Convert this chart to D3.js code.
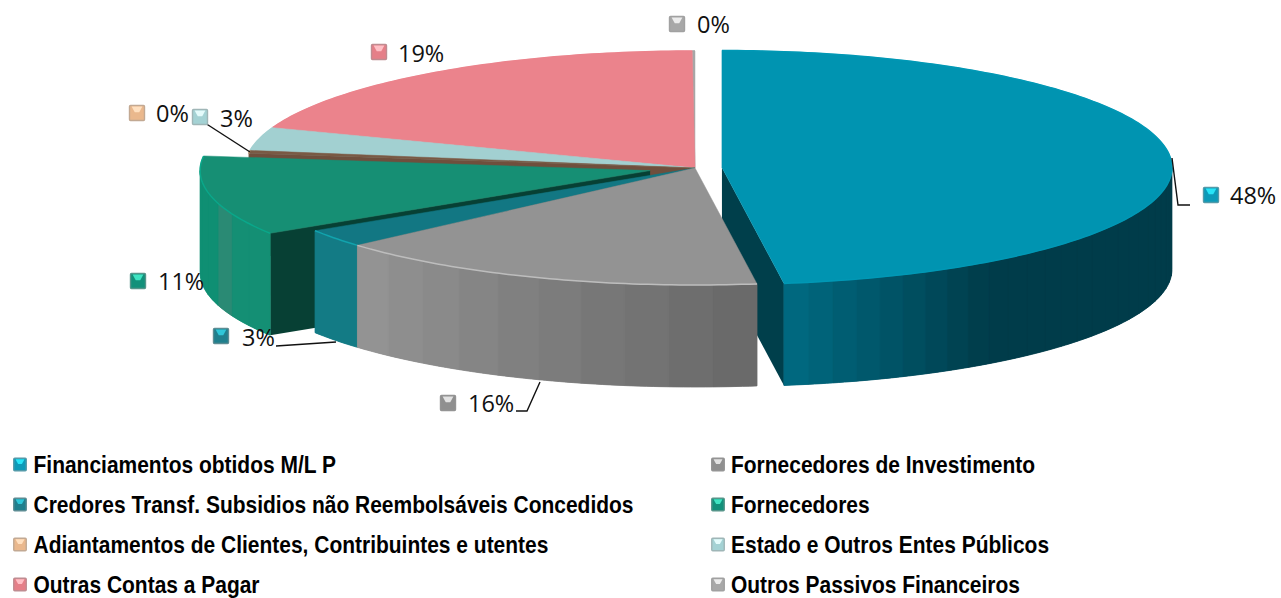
<!DOCTYPE html>
<html>
<head>
<meta charset="utf-8">
<script src="https://cdn.jsdelivr.net/npm/d3@7/dist/d3.min.js"></script>
<style>
  html, body { margin: 0; background: #fff; }
  svg { display: block; }
  .pct { font-family: "Open Sans", sans-serif; font-size: 23.5px; fill: #111; }
  .leg { font-family: "Liberation Sans", sans-serif; font-weight: bold; font-size: 23px; fill: #000; }
</style>
</head>
<body>
<script>
// Values, clockwise from 12 o'clock.
const categories = [
    "Financiamentos obtidos M/L P",
    "Fornecedores de Investimento",
    "Credores Transf. Subsidios não Reembolsáveis Concedidos",
    "Fornecedores",
    "Adiantamentos de Clientes, Contribuintes e utentes",
    "Estado e Outros Entes Públicos",
    "Outras Contas a Pagar",
    "Outros Passivos Financeiros"
];
const shares = [47.8, 15.7, 2.5, 11, 0.4, 3.2, 19.3, 0.1];
const shareLabels = ["48%", "16%", "3%", "11%", "0%", "3%", "19%", "0%"];

// Styles per slice.
const topColors = ["#0094b1", "#939393", "#127783", "#168f74", "#7a5a45", "#a2d0d1", "#eb838c", "#a6a6a6"];
const innerColors = ["#003f4b", "#6a6a6a", "#0c5560", "#074034", "#6f4f3d", "#7fa8a9", "#b9646c", "#888888"];
const rimColors = ["#0098b5", "#bdbdbd", "#12a3ad", "#0aa78a", "#c49a77", "#a2d0d1", "#eb838c", "#a6a6a6"];
// Wall colours run from the band nearest the slice's start angle to its end angle.
const wallStops = [
    ["#003c4a", "#003c4a", "#003c4a", "#00687f"],
    ["#6a6a6a", "#7e7e7e", "#939393"],
    ["#137b85", "#137b85"],
    ["#148f74", "#148f74", "#2a8a74", "#0f8f73", "#0f8f73", "#0f8f73"],
    ["#6f4f3d", "#6f4f3d"],
    ["#8fbcbd", "#8fbcbd"],
    ["#c96f78", "#c96f78"],
    ["#888888", "#888888"]
];
const wallBands = [26, 10, 1, 6, 1, 1, 1, 1];
const explode = [27, 0, 0, 46, 0, 0, 0, 0];
const keyBase = ["#0c9ab8", "#8f8f8f", "#1f7f8d", "#12907a", "#eab88d", "#a4d2d4", "#e57f88", "#a8a8a8"];
const keyTop = ["#27e4f7", "#e2e2e2", "#2fc6d8", "#3fe4c2", "#ffe0c0", "#e4fbfb", "#ffc0c6", "#ececec"];

// Layout of the data labels (key centre, text start and baseline).
const labelKeyX = [1211, 448, 221, 138, 137, 200, 379, 677];
const labelKeyY = [195, 403, 336, 281, 113, 117, 52, 24];
const labelTextX = [1230, 468, 242, 158, 156, 220, 398, 697];
const labelTextY = [204, 412, 346, 290, 122, 127, 62, 33];

const leaderLines = [
    [[1172, 158], [1178, 205], [1190, 205]],
    [[540, 382], [527, 411], [516, 411]],
    [[336, 342], [276, 346]],
    [[250, 152], [205, 123]]
];

const width = 1281;
const height = 598;

// Pie geometry.
const cx = 695;
const cy = 168;
const rx = 450;
const ry = 117;
const depth = 102;
const rad = Math.PI / 180;

const svg = d3.select("body").append("svg")
    .attr("width", width)
    .attr("height", height);

const slices = d3.pie().sort(null).value(d => d).startAngle(0).endAngle(2 * Math.PI)(shares);
const line = d3.line();

// Sideways shift of an exploded slice, along its middle angle.
function shift(i) {
    const mid = (slices[i].startAngle + slices[i].endAngle) / 2;
    return [explode[i] * Math.sin(mid), -explode[i] * Math.cos(mid) * ry / rx];
}

function rimPoint(a, off, drop) {
    return [cx + off[0] + rx * Math.sin(a), cy + off[1] - ry * Math.cos(a) + drop];
}

function arcPoints(a0, a1, off, drop) {
    const n = Math.max(2, Math.ceil((a1 - a0) / (1 * rad)));
    return d3.range(n + 1).map(k => rimPoint(a0 + (a1 - a0) * k / n, off, drop));
}

function drawInnerWall(g, i, a) {
    const off = shift(i);
    const apex = [cx + off[0], cy + off[1]];
    const pts = [apex, rimPoint(a, off, 0), rimPoint(a, off, depth), [apex[0], apex[1] + depth]];
    g.append("path").attr("d", line(pts) + "Z").attr("fill", innerColors[i]);
}

function drawOuterWall(g, i) {
    // Only the front half of the rim can be seen.
    const a0 = Math.max(slices[i].startAngle, 90 * rad);
    const a1 = Math.min(slices[i].endAngle, 270 * rad);
    if (a1 <= a0) return;
    const off = shift(i);
    const stops = wallStops[i];
    const ramp = d3.scaleLinear().domain(stops.map((d, j) => j / (stops.length - 1))).range(stops);
    const n = wallBands[i];

    // Solid underlay so the bands show no seams between them.
    g.append("path")
        .attr("d", line(arcPoints(a0, a1, off, 0).concat(arcPoints(a0, a1, off, depth).reverse())) + "Z")
        .attr("fill", ramp(0.5));

    d3.range(n).forEach(k => {
        const b0 = a0 + (a1 - a0) * k / n;
        const b1 = a0 + (a1 - a0) * (k + 1) / n;
        const pts = arcPoints(b0, b1, off, 0).concat(arcPoints(b0, b1, off, depth).reverse());
        const c = ramp(n > 1 ? k / (n - 1) : 0);
        g.append("path")
            .attr("d", line(pts) + "Z")
            .attr("fill", c)
            .attr("stroke", c)
            .attr("stroke-width", 0.8);
    });
}

function drawTop(g, i) {
    const off = shift(i);
    const a0 = slices[i].startAngle;
    const a1 = slices[i].endAngle;
    const apex = [cx + off[0], cy + off[1]];
    g.append("path")
        .attr("d", line([apex].concat(arcPoints(a0, a1, off, 0))) + "Z")
        .attr("fill", topColors[i])
        .attr("stroke", topColors[i])
        .attr("stroke-width", 0.5);
    g.append("path")
        .attr("d", line(arcPoints(a0, a1, off, 0)))
        .attr("fill", "none")
        .attr("stroke", rimColors[i])
        .attr("stroke-width", 1.5);
}

const pie = svg.append("g");

// Painter's order: back of the pie first, the gray front slice last.
[7, 6, 5, 4].forEach(i => {
    const g = pie.append("g");
    drawInnerWall(g, i, slices[i].startAngle);
    drawOuterWall(g, i);
    drawTop(g, i);
});
[0, 3, 2, 1].forEach(i => {
    const g = pie.append("g");
    // Blue shows its end face, green its start face.
    if (i === 0) drawInnerWall(g, i, slices[i].endAngle);
    if (i === 3) drawInnerWall(g, i, slices[i].startAngle);
    drawOuterWall(g, i);
    drawTop(g, i);
});

svg.append("g").selectAll("path")
    .data(leaderLines)
    .enter()
    .append("path")
    .attr("d", d => line(d))
    .attr("fill", "none")
    .attr("stroke", "#111")
    .attr("stroke-width", 1.4);

// Small bevelled square used in the labels and the legend.
function drawKey(g, x, y, size, i) {
    const s = size / 2;
    const inset = size * 0.14;
    g.append("rect")
        .attr("x", x - s).attr("y", y - s)
        .attr("width", size).attr("height", size)
        .attr("rx", 1)
        .attr("fill", keyBase[i])
        .attr("stroke", d3.interpolateRgb(keyBase[i], "#999")(0.5))
        .attr("stroke-width", 1.4);
    g.append("path")
        .attr("d", line([
            [x - s + inset, y - s + 1],
            [x + s - inset, y - s + 1],
            [x + s * 0.3, y - s * 0.1],
            [x - s * 0.3, y - s * 0.1]
        ]) + "Z")
        .attr("fill", keyTop[i]);
}

const labelGroup = svg.append("g");
shareLabels.forEach((d, i) => {
    drawKey(labelGroup, labelKeyX[i], labelKeyY[i], 15, i);
    labelGroup.append("text")
        .attr("class", "pct")
        .attr("x", labelTextX[i])
        .attr("y", labelTextY[i])
        .text(d);
});

// Legend in two columns, reading across. The reference type is condensed.
const legendSqueeze = 0.912;
const legendGroup = svg.append("g");
categories.forEach((d, i) => {
    const col = i % 2;
    const row = Math.floor(i / 2);
    drawKey(legendGroup, col ? 718 : 20, 464.5 + row * 40, 12.5, i);
    legendGroup.append("text")
        .attr("class", "leg")
        .attr("transform", `translate(${col ? 731 : 33.5},${473 + row * 40}) scale(${legendSqueeze},1)`)
        .text(d);
});
</script>
</body>
</html>
